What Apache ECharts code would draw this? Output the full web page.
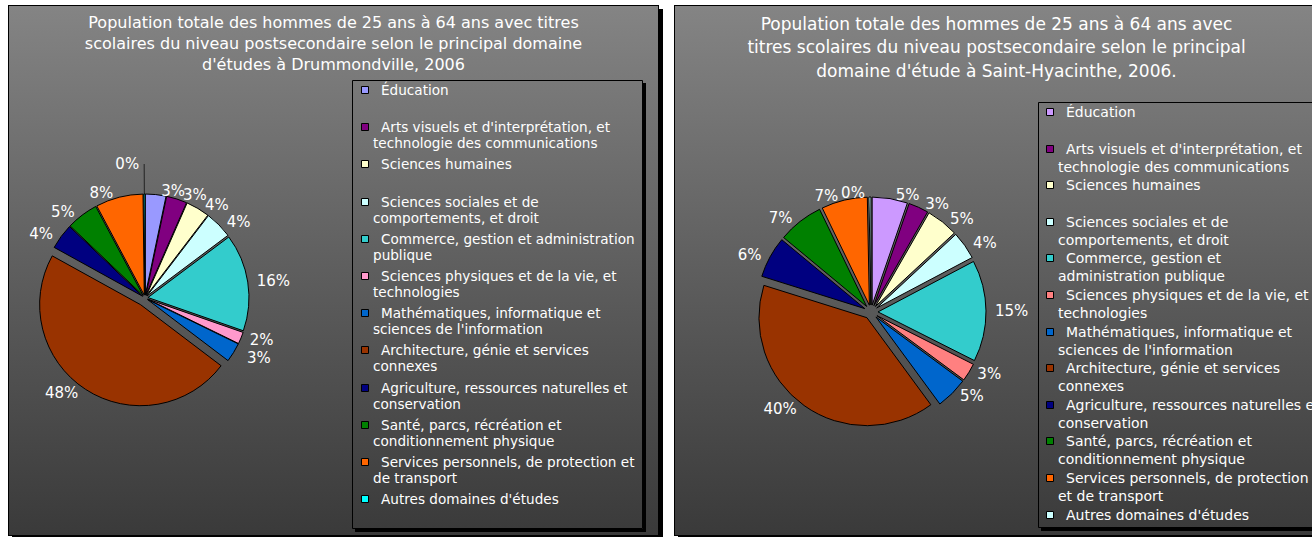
<!DOCTYPE html>
<html><head><meta charset="utf-8">
<script src="https://cdn.jsdelivr.net/npm/echarts@6/dist/echarts.min.js"></script>
<style>
html,body{margin:0;padding:0;background:#fff;width:1312px;height:537px;overflow:hidden;position:relative}
.panel{position:absolute;box-sizing:border-box;border:1px solid #000;box-shadow:4px 4px 0 #000;background:linear-gradient(to bottom,#848484 0%,#5e5e5e 50%,#3a3a3a 100%)}
#c1{left:8px;top:5px;width:651px;height:531px}
#c2{left:674px;top:5px;width:645px;height:531px}
</style></head><body>
<div id="c1" class="panel"></div><div id="c2" class="panel"></div>
<script>
// ---------- data ----------
const categories = [
  "Éducation",
  "Arts visuels et d'interprétation, et technologie des communications",
  "Sciences humaines",
  "Sciences sociales et de comportements, et droit",
  "Commerce, gestion et administration publique",
  "Sciences physiques et de la vie, et technologies",
  "Mathématiques, informatique et sciences de l'information",
  "Architecture, génie et services connexes",
  "Agriculture, ressources naturelles et conservation",
  "Santé, parcs, récréation et conditionnement physique",
  "Services personnels, de protection et de transport",
  "Autres domaines d'études"
];
const drummondValues  = [3.3, 3.3, 3.8, 4.4, 15.6, 1.9, 3.1, 47.8, 4.1, 5.1, 7.6, 0.2];
const hyacintheValues = [5.3, 3.0, 4.8, 4.2, 15.2, 2.7, 4.8, 40.0, 6.2, 6.8, 6.9, 0.3];

const drummondColors  = ["#9999ff","#800080","#ffffcc","#ccffff","#33cccc","#ff99cc","#0066cc","#993300","#000080","#008000","#ff6600","#00ffff"];
const hyacintheColors = ["#cc99ff","#800080","#ffffcc","#ccffff","#33cccc","#ff8080","#0066cc","#993300","#000080","#008000","#ff6600","#ccffff"];

const drummondTitle  = "Population totale des hommes de 25 ans à 64 ans avec titres\nscolaires du niveau postsecondaire selon le principal domaine\nd'études à Drummondville, 2006";
const hyacintheTitle = "Population totale des hommes de 25 ans à 64 ans avec\ntitres scolaires du niveau postsecondaire selon le principal\ndomaine d'étude à Saint-Hyacinthe, 2006.";

const drummondLegendLines = [
  ["Éducation"],
  ["Arts visuels et d'interprétation, et", "technologie des communications"],
  ["Sciences humaines"],
  ["Sciences sociales et de", "comportements, et droit"],
  ["Commerce, gestion et administration", "publique"],
  ["Sciences physiques et de la vie, et", "technologies"],
  ["Mathématiques, informatique et", "sciences de l'information"],
  ["Architecture, génie et services", "connexes"],
  ["Agriculture, ressources naturelles et", "conservation"],
  ["Santé, parcs, récréation et", "conditionnement physique"],
  ["Services personnels, de protection et", "de transport"],
  ["Autres domaines d'études"]
];
const hyacintheLegendLines = [
  ["Éducation"],
  ["Arts visuels et d'interprétation, et", "technologie des communications"],
  ["Sciences humaines"],
  ["Sciences sociales et de", "comportements, et droit"],
  ["Commerce, gestion et", "administration publique"],
  ["Sciences physiques et de la vie, et", "technologies"],
  ["Mathématiques, informatique et", "sciences de l'information"],
  ["Architecture, génie et services", "connexes"],
  ["Agriculture, ressources naturelles et", "conservation"],
  ["Santé, parcs, récréation et", "conditionnement physique"],
  ["Services personnels, de protection", "et de transport"],
  ["Autres domaines d'études"]
];

// ---------- helpers ----------
const FONT = "'DejaVu Sans', 'Liberation Sans', sans-serif";
const pctFmt = p => Math.round(p.percent) + '%';

function buildData(values, colors, visible, leaderIdx, farIdx) {
  return values.map((v, i) => {
    const show = visible(i);
    let labelLine = {show: false};
    if (show && i === leaderIdx) labelLine = {show: true, length: 30, length2: 0, lineStyle: {color: '#222', width: 1}};
    else if (show && i === farIdx) labelLine = {show: false, length: 10, length2: 0};
    return {
      name: categories[i], value: v, selected: true,
      itemStyle: show ? {color: colors[i], borderColor: '#000', borderWidth: 1}
                      : {color: 'rgba(0,0,0,0)', borderWidth: 0},
      label: {show: show},
      labelLine: labelLine
    };
  });
}

function legendGraphic(lines, colors, box, iconX, textX, contX, y0, pitch, lineGap, fs) {
  const els = [];
  els.push({type:'rect', shape:{x:box.x+box.w+1, y:box.y+3, width:3, height:box.h+1}, style:{fill:'#000'}, silent:true});
  els.push({type:'rect', shape:{x:box.x+3, y:box.y+box.h+1, width:box.w+1, height:3}, style:{fill:'#000'}, silent:true});
  els.push({type:'rect', shape:{x:box.x+0.5, y:box.y+0.5, width:box.w, height:box.h}, style:{fill:'none', stroke:'#000', lineWidth:1}, silent:true});
  lines.forEach((ls, i) => {
    const y = y0 + pitch * i;
    els.push({type:'rect', shape:{x:iconX+0.5, y:Math.round(y-4)+0.5, width:7, height:7}, style:{fill:colors[i], stroke:'#000', lineWidth:1}, silent:true});
    ls.forEach((t, k) => {
      els.push({type:'text', x: k === 0 ? textX : contX, y: y + k*lineGap,
        style:{text:t, fill:'#fff', font: fs + 'px ' + FONT, verticalAlign:'middle'}, silent:true});
    });
  });
  return els;
}

const pieBase = {
  type: 'pie', startAngle: 90, clockwise: true, avoidLabelOverlap: false,
  selectedMode: 'multiple', animation: false, emphasis: {disabled: true},
  labelLayout: {hideOverlap: false},
  label: {position:'outside', color:'#fff', fontSize:15, fontFamily:FONT, formatter: pctFmt},
  labelLine: {show:false, length:4, length2:0}
};

// ---------- chart 1: Drummondville ----------
const ch1 = echarts.init(document.getElementById('c1'), null, {renderer:'svg'});
ch1.setOption({
  animation: false,
  textStyle: {fontFamily: FONT},
  title: {text: drummondTitle, left: 'center', top: 6, padding: 0,
    textStyle: {color:'#fff', fontSize:16, fontWeight:'normal', lineHeight:21, fontFamily:FONT}},
  series: [
    Object.assign({}, pieBase, {name:'Drummondville', center:[136, 292], radius:[0, 101], selectedOffset: 3,
      data: buildData(drummondValues, drummondColors, i => i !== 7, 11, 6)}),
    Object.assign({}, pieBase, {name:'Drummondville (Architecture)', center:[136, 292], radius:[0, 101], selectedOffset: 8, silent: true,
      data: buildData(drummondValues, drummondColors, i => i === 7, -1, -1)})
  ],
  graphic: legendGraphic(drummondLegendLines, drummondColors, {x:343, y:74, w:290, h:448}, 352, 372, 364, 84, 37.2, 16, 13.6)
});

// ---------- chart 2: Saint-Hyacinthe ----------
const ch2 = echarts.init(document.getElementById('c2'), null, {renderer:'svg'});
ch2.setOption({
  animation: false,
  textStyle: {fontFamily: FONT},
  title: {text: hyacintheTitle, left: 'center', top: 6, padding: 0,
    textStyle: {color:'#fff', fontSize:17, fontWeight:'normal', lineHeight:23.5, fontFamily:FONT}},
  series: [
    Object.assign({}, pieBase, {name:'Saint-Hyacinthe', center:[196, 306], radius:[0, 108], selectedOffset: 7,
      data: buildData(hyacintheValues, hyacintheColors, i => true, -1, -1)})
  ],
  graphic: legendGraphic(hyacintheLegendLines, hyacintheColors, {x:363, y:96, w:320, h:425}, 371, 391, 383, 106, 36.6, 18, 14)
});
</script>
</body></html>
